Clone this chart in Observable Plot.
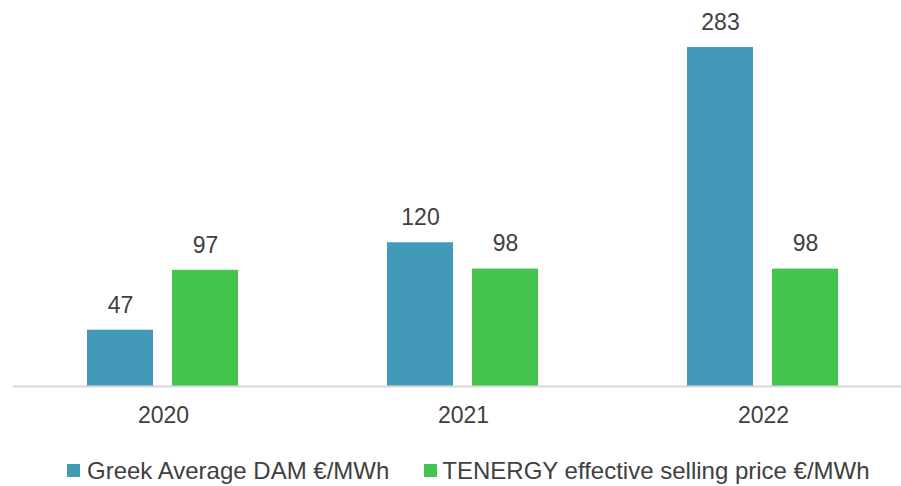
<!DOCTYPE html>
<html>
<head>
<meta charset="utf-8">
<script src="https://cdn.jsdelivr.net/npm/d3@7"></script>
<script src="https://cdn.jsdelivr.net/npm/@observablehq/plot@0.6"></script>
<style>
  html, body { margin: 0; padding: 0; background: #fff; overflow: hidden; }
  body { width: 901px; height: 486px; font-family: "Liberation Sans", Arial, sans-serif; }
  #legend { height: 38px; display: flex; align-items: flex-start; padding-top: 11px; padding-left: 67px; box-sizing: border-box; overflow: visible; color: #404040; font-size: 24px; line-height: 24px; }
  .item { display: flex; align-items: flex-start; white-space: nowrap; }
  .sw { width: 13px; height: 13px; margin-top: 5px; }
</style>
</head>
<body>
<div id="chart"></div>
<div id="legend"></div>
<script>
const years = ["2020", "2021", "2022"];
const seriesNames = ["Greek Average DAM €/MWh", "TENERGY effective selling price €/MWh"];
const greekDAM = [47, 120, 283];
const tenergyPrice = [97, 98, 98];
const colors = ["#4399B8", "#45C34F"];

const data = [];
years.forEach((y, i) => {
  data.push({year: y, series: seriesNames[0], value: greekDAM[i]});
  data.push({year: y, series: seriesNames[1], value: tenergyPrice[i]});
});

const chart = Plot.plot({
  width: 901,
  height: 448,
  marginTop: 47,
  marginBottom: 62,
  marginLeft: 13,
  marginRight: -12,
  style: {fontFamily: "'Liberation Sans', Arial, sans-serif", fontSize: "23px", color: "#404040", background: "#fff"},
  fx: {domain: years, padding: 0, label: null, axis: null},
  x: {domain: seriesNames, paddingInner: 0.221, paddingOuter: 0.855, axis: null},
  y: {domain: [0, 283], axis: null},
  color: {domain: seriesNames, range: colors},
  marks: [
    Plot.barY(data, {fx: "year", x: "series", y: "value", fill: "series"}),
    Plot.ruleY([0], {stroke: "#d9d9d9", strokeWidth: 2}),
    Plot.text(data, {fx: "year", x: "series", y: "value", text: d => String(d.value), dy: -25, fill: "#404040", fontSize: 23}),
    Plot.axisFx({anchor: "bottom", tickSize: 0, tickPadding: 20, label: null, fontSize: 23, color: "#404040"})
  ]
});
document.getElementById("chart").appendChild(chart);

const legend = document.getElementById("legend");
seriesNames.forEach((name, i) => {
  const item = document.createElement("div");
  item.className = "item";
  if (i > 0) item.style.marginLeft = "35px";
  const sw = document.createElement("div");
  sw.className = "sw";
  sw.style.background = colors[i];
  sw.style.marginRight = i === 0 ? "7px" : "5px";
  const t = document.createElement("span");
  t.textContent = name;
  item.appendChild(sw);
  item.appendChild(t);
  legend.appendChild(item);
});
</script>
</body>
</html>
